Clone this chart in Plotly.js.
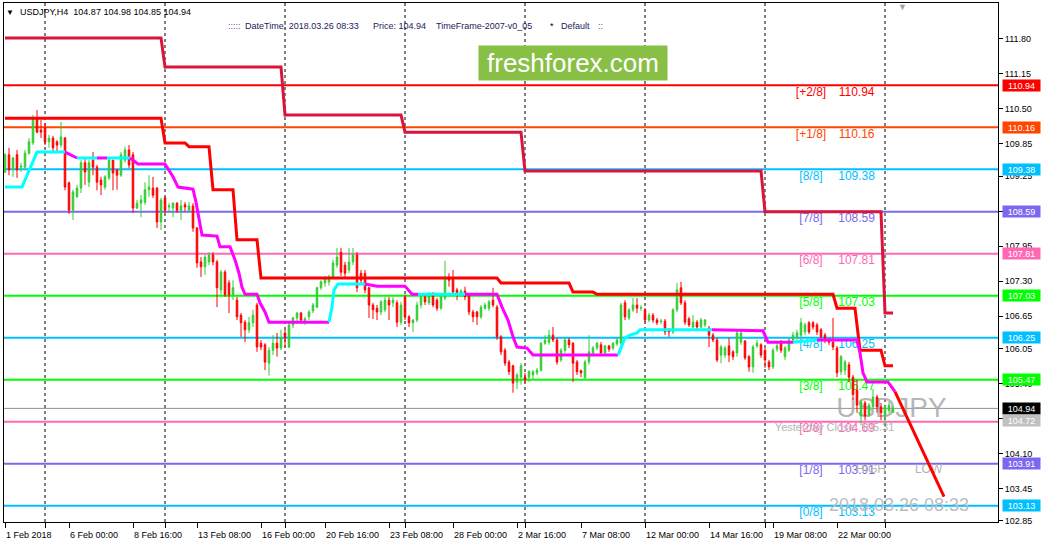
<!DOCTYPE html>
<html><head><meta charset="utf-8">
<script src="https://cdn.plot.ly/plotly-3.0.1.min.js"></script>
<style>html,body{margin:0;padding:0;background:#fff}#chart{width:1043px;height:548px}</style>
</head><body><div id="chart"></div>
<script>
// ---- data (H4 bars; bar index 0 = Mon 5 Feb 2018 00:00) ----
const firstBar = -10;
const openP = [
109.33,109.65,109.40,109.65,109.42,109.42,109.68,109.87,110.33,110.11,
110.15,109.89,109.96,109.89,109.83,109.96,109.13,108.62,108.87,109.03,
109.50,109.14,109.55,109.42,109.18,109.05,109.22,109.55,109.37,109.27,
109.55,109.74,109.65,108.66,108.75,108.77,109.00,109.03,109.03,108.40,
108.85,108.68,108.66,108.75,108.62,108.72,108.62,108.70,108.29,107.66,
107.57,107.66,107.79,107.66,107.14,107.47,107.27,107.05,106.95,106.67,
106.54,106.40,106.53,106.86,106.15,106.12,105.78,106.02,106.15,106.06,
106.34,106.08,106.49,106.62,106.71,106.57,106.64,106.75,106.82,107.18,
107.27,107.29,107.38,107.60,107.84,107.60,107.51,107.66,107.79,107.45,
107.45,107.18,106.86,106.80,106.73,106.77,106.95,106.90,106.90,106.54,
107.01,106.64,106.53,106.58,106.86,107.01,106.90,107.05,106.95,106.80,
106.99,107.38,107.36,107.14,107.05,107.12,107.05,106.73,106.73,106.64,
106.80,106.80,106.95,106.82,106.27,106.02,105.80,105.73,105.43,105.52,
105.52,105.52,105.56,105.60,105.65,106.15,106.17,106.30,106.21,105.84,
106.02,106.21,106.15,105.80,105.64,105.51,105.80,105.97,106.06,106.12,
105.97,106.10,106.06,106.14,106.15,106.90,106.62,106.77,106.86,106.80,
106.77,106.58,106.67,106.58,106.55,106.56,106.40,106.36,106.77,107.18,
106.90,106.60,106.45,106.54,106.45,106.49,106.43,106.30,106.21,105.93,
105.93,106.10,105.99,105.97,106.17,106.19,105.90,105.71,106.10,106.12,
106.02,105.80,105.71,106.04,106.15,105.90,106.02,106.21,106.27,106.30,
106.36,106.53,106.53,106.49,106.40,106.30,106.21,106.17,106.06,105.62,
105.65,105.75,105.52,105.28,104.80,105.04,104.82,104.97,105.15,104.97,
104.80,104.90,104.87];
const highP = [
109.68,109.78,109.61,109.74,109.50,109.74,109.96,110.39,110.48,110.30,
110.24,110.02,110.00,109.92,110.26,109.98,109.15,109.00,109.09,109.55,
109.59,109.55,109.70,109.46,109.24,109.27,109.61,109.55,109.37,109.70,
109.80,109.83,109.70,108.81,108.90,109.14,109.27,109.24,109.05,108.85,
108.87,108.75,108.77,108.77,108.81,108.77,108.77,108.75,108.31,107.75,
107.79,107.84,107.84,107.70,107.51,107.51,107.32,107.32,107.01,106.71,
106.58,106.64,106.77,106.90,106.21,106.15,106.08,106.30,106.34,106.40,
106.40,106.53,106.64,106.73,106.73,106.64,106.77,106.90,107.20,107.32,
107.40,107.42,107.70,107.92,107.92,107.66,107.92,107.92,107.84,107.51,
107.51,107.20,106.90,106.86,106.95,107.01,107.01,107.01,106.95,106.92,
107.05,106.67,106.60,106.92,107.05,107.05,107.10,107.10,106.99,107.05,
107.68,107.45,107.51,107.18,107.16,107.20,107.08,106.77,106.75,106.86,
106.90,106.95,107.18,106.86,106.30,106.06,105.84,105.75,105.60,105.78,
105.60,105.65,105.65,105.69,106.17,106.30,106.40,106.45,106.25,106.06,
106.25,106.25,106.17,105.84,105.66,105.84,106.30,106.10,106.17,106.17,
106.12,106.12,106.17,106.25,106.90,106.95,106.80,106.99,106.99,106.86,
106.80,106.71,106.71,106.62,106.60,106.60,106.43,106.80,107.27,107.29,
106.95,106.64,106.67,106.58,106.62,106.60,106.47,106.34,106.25,106.12,
106.10,106.25,106.02,106.40,106.38,106.21,105.93,106.12,106.21,106.15,
106.06,105.84,106.06,106.15,106.21,106.10,106.25,106.36,106.40,106.62,
106.53,106.56,106.56,106.53,106.43,106.34,106.25,106.62,106.10,105.93,
105.84,105.80,105.56,105.47,105.10,105.08,105.04,105.30,105.19,105.04,
105.00,105.06,104.98];
const lowP = [
109.31,109.27,109.24,109.22,109.33,109.40,109.65,109.83,110.05,109.96,
109.83,109.78,109.72,109.72,109.78,108.99,108.55,108.44,108.85,108.94,
109.09,109.05,109.27,108.99,108.90,109.00,109.18,108.99,109.00,109.24,
109.50,109.40,108.57,108.64,108.49,108.72,108.87,108.85,108.29,108.25,
108.57,108.57,108.49,108.57,108.44,108.60,108.57,108.22,107.55,107.38,
107.42,107.60,107.60,106.82,107.05,107.01,106.71,106.95,106.58,106.27,
106.17,106.34,106.45,105.99,106.02,105.65,105.55,105.93,105.90,106.02,
106.08,106.06,106.43,106.54,106.54,106.49,106.58,106.71,106.80,107.14,
107.20,107.22,107.34,107.55,107.40,107.38,107.45,107.60,107.10,107.23,
107.08,106.62,106.60,106.58,106.67,106.73,106.58,106.82,106.45,106.49,
106.58,106.45,106.36,106.54,106.80,106.86,106.86,106.82,106.75,106.77,
106.95,107.20,107.05,106.95,107.01,106.95,106.67,106.54,106.49,106.60,
106.77,106.75,106.82,106.21,105.93,105.73,105.56,105.23,105.30,105.38,
105.41,105.43,105.47,105.56,105.62,106.12,106.12,106.17,105.75,105.80,
105.97,106.06,105.43,105.56,105.52,105.49,105.75,105.93,106.02,105.93,
105.93,105.99,106.02,106.10,106.12,106.58,106.58,106.73,106.71,106.75,
106.54,106.54,106.53,106.49,106.50,106.30,106.27,106.32,106.73,106.86,
106.49,106.45,106.43,106.40,106.43,106.45,106.08,106.17,105.80,105.78,
105.88,105.80,105.84,105.90,106.12,105.84,105.62,105.60,106.06,105.88,
105.69,105.65,105.67,105.99,105.97,105.84,105.99,106.17,106.21,106.25,
106.30,106.32,106.40,106.30,106.21,106.15,106.12,106.02,105.52,105.56,
105.56,105.43,105.10,104.86,104.63,104.72,104.78,104.92,104.86,104.72,
104.63,104.86,104.85];
const closeP = [
109.65,109.37,109.59,109.37,109.44,109.68,109.89,110.33,110.07,110.07,
109.89,109.96,109.78,109.83,109.98,109.05,108.62,108.96,109.03,109.50,
109.33,109.50,109.42,109.14,109.09,109.24,109.55,109.31,109.27,109.65,
109.74,109.46,108.66,108.75,108.81,109.00,109.05,108.90,108.40,108.81,
108.62,108.70,108.75,108.62,108.70,108.68,108.70,108.29,107.64,107.57,
107.75,107.79,107.66,107.18,107.47,107.05,107.05,107.18,106.64,106.53,
106.40,106.53,106.67,106.08,106.08,105.80,106.02,106.15,106.06,106.25,
106.25,106.49,106.62,106.71,106.58,106.60,106.73,106.86,107.18,107.29,
107.36,107.38,107.64,107.75,107.47,107.45,107.66,107.79,107.18,107.32,
107.14,106.86,106.77,106.73,106.92,106.95,106.86,106.95,106.54,106.86,
106.64,106.53,106.58,106.86,107.01,106.92,107.05,106.86,106.80,107.01,
107.38,107.32,107.10,107.05,107.12,107.01,106.73,106.64,106.64,106.82,
106.86,106.92,106.86,106.27,105.99,105.78,105.62,105.41,105.56,105.73,
105.47,105.62,105.62,105.65,106.15,106.21,106.30,106.21,105.80,106.02,
106.21,106.12,105.78,105.62,105.60,105.80,105.99,106.06,106.15,105.97,
106.10,106.04,106.15,106.21,106.86,106.64,106.77,106.86,106.80,106.81,
106.58,106.67,106.58,106.53,106.56,106.36,106.36,106.77,107.14,106.90,
106.54,106.49,106.54,106.45,106.58,106.58,106.30,106.21,105.84,106.08,
106.06,105.93,105.90,106.34,106.34,105.88,105.71,106.08,106.15,105.93,
105.84,105.71,106.02,106.10,106.02,106.06,106.21,106.30,106.34,106.53,
106.49,106.36,106.45,106.36,106.27,106.21,106.17,106.08,105.60,105.90,
105.80,105.52,105.20,105.00,105.06,104.80,105.00,105.15,104.97,104.86,
104.97,105.00,104.94];

// weekly stepped line (crimson)
const crIdx = [-10, 29, 30, 59, 60, 89, 90, 119, 120, 179, 180, 209, 210, 212];
const crVal = [111.82,111.82,111.28,111.28,110.39,110.39,110.07,110.07,109.35,109.35,108.59,108.59,106.71,106.71];
// daily stepped line (red)
const rdIdx = [-10, 29, 30, 35, 36, 41, 42, 47, 48, 53, 54, 113, 114, 131, 132, 137, 138, 197, 198, 202.5, 203.75, 209, 210, 212];
const rdVal = [110.33,110.33,109.87,109.87,109.80,109.80,109.00,109.00,108.07,108.07,107.36,107.36,107.27,107.27,107.10,107.10,107.06,107.06,106.80,106.80,106.02,106.02,105.73,105.73];
// two-colour moving average (u = rising/cyan, d = falling/magenta, per segment)
const maIdx = [-10,-5.75,-2,5,8,13,15.5,21.25,23.25,30,32,33.25,37,37.75,38.5,39.25,43,43.75,46.25,47.5,48.5,49.25,50,53,53.75,55,56,71,71.75,72.25,73.25,80,83,90,91.75,93.25,105,113,114.25,115.75,117,118,120.5,122,143.25,143.75,145,146.25,148,148.75,166.75,179.5,180.75,187,193,203,203.75,204.5,205.5,210.75,212.5];
const maVal = [109.05,109.05,109.70,109.70,109.59,109.59,109.59,109.59,109.48,109.48,109.24,109.05,109.01,108.77,108.49,108.16,108.14,107.94,107.94,107.70,107.45,107.19,107.06,107.06,106.90,106.73,106.54,106.54,106.82,107.14,107.25,107.25,107.21,107.21,107.06,107.06,107.06,107.06,106.82,106.58,106.27,106.08,106.06,105.93,105.93,106.02,106.25,106.30,106.34,106.40,106.40,106.38,106.17,106.17,106.21,106.21,105.97,105.60,105.43,105.43,105.25];
const maTrend = ['u','u','u','d','u','d','u',
 'd','d','d','d','d','d','d','d','d','d','d','d','d','d','d','d','d','d','d','d',
 'u','u','u','u','d','d','d','d','u','d','d','d','d','d','d','d','d',
 'u','u','u','u','u','u','d','d','d','u','d','d','d','d','d','d'];
// forecast line
const fcIdx = [212.5, 224.75];
const fcVal = [105.25, 103.30];

// Murrey math levels
const levelTag = ['[+2/8]','[+1/8]','[8/8]','[7/8]','[6/8]','[5/8]','[4/8]','[3/8]','[2/8]','[1/8]','[0/8]'];
const levelVal = [110.94,110.16,109.38,108.59,107.81,107.03,106.25,105.47,104.69,103.91,103.13];
const levelColor = ['#ff0000','#ff4500','#00bfff','#7b68ee','#ff69b4','#00ff00','#00bfff','#00ff00','#ff69b4','#7b68ee','#00bfff'];
const bidPrice = 104.94;
// price boxes on the right scale
const boxVal = [110.94,110.16,109.38,108.59,107.81,107.03,106.25,105.47,104.94,104.72,103.91,103.13];
const boxColor = ['#ff0000','#ff4500','#00bfff','#7b68ee','#ff69b4','#00ff00','#00bfff','#00ff00','#000000','#c0c0c0','#7b68ee','#00bfff'];

// axes (labels fully hidden under price boxes are left blank, as in the chart)
const yTickVals = [111.80,111.15,110.50,109.85,109.25,108.60,107.95,107.30,106.65,106.05,105.40,104.75,104.10,103.45,102.85];
const yTickText = ['111.80','111.15','110.50','109.85','109.25','','107.95','107.30','106.65','106.05','105.40','','104.10','103.45','102.85'];
const xTickIdx = [-10,6,22,38,54,70,86,102,118,134,150,166,182,198];
const xTickText = ['1 Feb 2018','6 Feb 00:00','8 Feb 16:00','13 Feb 08:00','16 Feb 00:00','20 Feb 16:00','23 Feb 08:00','28 Feb 00:00','2 Mar 16:00','7 Mar 08:00','12 Mar 00:00','14 Mar 16:00','19 Mar 08:00','22 Mar 00:00'];
const weekIdx = [0,30,60,90,120,150,180,210];

// ---- build ----
const FONT = 'Liberation Sans, Arial, sans-serif';
const XR = [-10.25, 238.25];
const YR = [102.83, 112.468];
const barIdx = openP.map((_, i) => firstBar + i);

const traces = [];
// texts drawn beneath the price data (main subplot)
traces.push({type:'scatter', mode:'text', x: levelVal.map(() => 191.5), y: levelVal.map(v => v - 0.14),
  text: levelTag, textfont:{family:FONT, size:12, color: levelColor}, hoverinfo:'skip'});
traces.push({type:'scatter', mode:'text', x: levelVal.map(() => 202.9), y: levelVal.map(v => v - 0.14),
  text: levelVal.map(v => v.toFixed(2)), textfont:{family:FONT, size:12, color: levelColor}, hoverinfo:'skip'});
traces.push({type:'scatter', mode:'text', x:[211.6], y:[104.91], text:['USDJPY'],
  textfont:{family:FONT, size:28, color:'rgba(170,170,170,0.85)'}, hoverinfo:'skip'});
traces.push({type:'scatter', mode:'text', x:[197.4], y:[104.57], text:['Yesterday Close: 105.31'],
  textfont:{family:FONT, size:11, color:'#b4b4b4'}, hoverinfo:'skip'});
traces.push({type:'scatter', mode:'text', x:[206.5, 220.9], y:[103.80, 103.80], text:['HIGH','LOW'],
  textfont:{family:FONT, size:12, color:'#b4b4b4'}, hoverinfo:'skip'});
traces.push({type:'scatter', mode:'text', x:[213.5], y:[103.11], text:['2018.03.26 08:33'],
  textfont:{family:FONT, size:18, color:'#bdbdbd'}, hoverinfo:'skip'});

// price data on overlay subplot
traces.push({type:'candlestick', x: barIdx, open: openP, high: highP, low: lowP, close: closeP,
  xaxis:'x2', yaxis:'y2', whiskerwidth:0, hoverinfo:'none',
  increasing:{line:{color:'#32cd32', width:1}, fillcolor:'#32cd32'},
  decreasing:{line:{color:'#ff0000', width:1}, fillcolor:'#ff0000'}});
traces.push({type:'scatter', mode:'lines', x: crIdx, y: crVal, xaxis:'x2', yaxis:'y2',
  line:{color:'#dc143c', width:3}, hoverinfo:'skip'});
traces.push({type:'scatter', mode:'lines', x: rdIdx, y: rdVal, xaxis:'x2', yaxis:'y2',
  line:{color:'#ff0000', width:3}, hoverinfo:'skip'});
// MA segments grouped by colour
let start = 0;
for (let i = 1; i <= maTrend.length; i++) {
  if (i === maTrend.length || maTrend[i] !== maTrend[start]) {
    traces.push({type:'scatter', mode:'lines', x: maIdx.slice(start, i + 1), y: maVal.slice(start, i + 1),
      xaxis:'x2', yaxis:'y2', line:{color: maTrend[start] === 'u' ? '#00ffff' : '#ff00ff', width:3}, hoverinfo:'skip'});
    start = i;
  }
}
traces.push({type:'scatter', mode:'lines', x: fcIdx, y: fcVal, xaxis:'x2', yaxis:'y2',
  line:{color:'#ff0000', width:3}, hoverinfo:'skip'});

const shapes = [];
weekIdx.forEach(w => shapes.push({type:'line', xref:'x', yref:'paper', x0:w, x1:w, y0:0, y1:1,
  line:{color:'#000', width:1, dash:'3px,3px'}, layer:'between'}));
levelVal.forEach((v, i) => shapes.push({type:'line', xref:'paper', yref:'y', x0:0, x1:1, y0:v, y1:v,
  line:{color: levelColor[i], width:2}, layer:'between'}));
shapes.push({type:'line', xref:'paper', yref:'y', x0:0, x1:1, y0:bidPrice, y1:bidPrice,
  line:{color:'#909090', width:1}, layer:'between'});

const annotations = [];
boxVal.forEach((v, i) => annotations.push({xref:'paper', yref:'y', x:1.004, y:v, xanchor:'left', yanchor:'middle',
  text: v.toFixed(2), showarrow:false, bgcolor: boxColor[i], width:37, height:11, borderpad:0,
  font:{family:FONT, size:9, color:'#fff'}}));
const px = p => (p - 4) / 994, py = p => 1 - (p - 3) / 519;
annotations.push({xref:'paper', yref:'paper', x:px(10), y:py(12), text:'▼', showarrow:false,
  font:{family:FONT, size:8, color:'#000'}, xanchor:'center', yanchor:'middle'});
annotations.push({xref:'paper', yref:'paper', x:px(18), y:py(12), text:'USDJPY,H4  104.87 104.98 104.85 104.94', showarrow:false,
  font:{family:FONT, size:9, color:'#000'}, xanchor:'left', yanchor:'middle'});
[[226,':::::','#7a3c9c'],[243,'DateTime: 2018.03.26 08:33','#1c1c5c'],[371,'Price: 104.94','#1c1c5c'],
 [434,'TimeFrame-2007-v0_05','#1c1c5c'],[548,'*','#000'],[559,'Default','#1c1c5c'],[596,'::','#7a3c9c']]
 .forEach(t => annotations.push({xref:'paper', yref:'paper', x:px(t[0]), y:py(26), text:t[1], showarrow:false,
  font:{family:FONT, size:9, color:t[2]}, xanchor:'left', yanchor:'middle'}));
annotations.push({xref:'paper', yref:'paper', x:px(573), y:py(63), text:'freshforex.com', showarrow:false,
  bgcolor:'#88bf45', width:188, height:34, borderpad:0, font:{family:FONT, size:26, color:'#fff'},
  xanchor:'center', yanchor:'middle'});
annotations.push({xref:'paper', yref:'paper', x:px(902), y:py(7), text:'▼', showarrow:false,
  font:{family:FONT, size:9, color:'#a0a0a0'}, xanchor:'center', yanchor:'middle'});

const axFont = {family:FONT, size:9, color:'#000'};
const layout = {
  width:1043, height:548, margin:{l:4, r:45, t:3, b:26},
  paper_bgcolor:'#fff', plot_bgcolor:'#fff', showlegend:false, boxgap:0.45,
  xaxis:{range:XR, showgrid:false, zeroline:false, showline:true, mirror:true, linecolor:'#000', linewidth:1,
    tickmode:'array', tickvals:xTickIdx, ticktext:xTickText, ticks:'outside', ticklen:5, tickcolor:'#000',
    ticklabelposition:'outside right', ticklabelstandoff:4, tickfont:axFont, rangeslider:{visible:false}, fixedrange:true,
    minor:{tickmode:'array', tickvals:weekIdx, ticks:'outside', ticklen:5, tickcolor:'#000', showgrid:false}},
  yaxis:{range:YR, side:'right', showgrid:false, zeroline:false, showline:true, mirror:true, linecolor:'#000', linewidth:1,
    tickmode:'array', tickvals:yTickVals, ticktext:yTickText, ticks:'outside', ticklen:4,
    tickcolor:'#000', tickfont:axFont, fixedrange:true},
  xaxis2:{range:XR, overlaying:'x', visible:false, rangeslider:{visible:false}, fixedrange:true},
  yaxis2:{range:YR, overlaying:'y', visible:false, fixedrange:true},
  shapes, annotations
};
Plotly.newPlot('chart', traces, layout, {staticPlot:true, displayModeBar:false});
</script></body></html>
